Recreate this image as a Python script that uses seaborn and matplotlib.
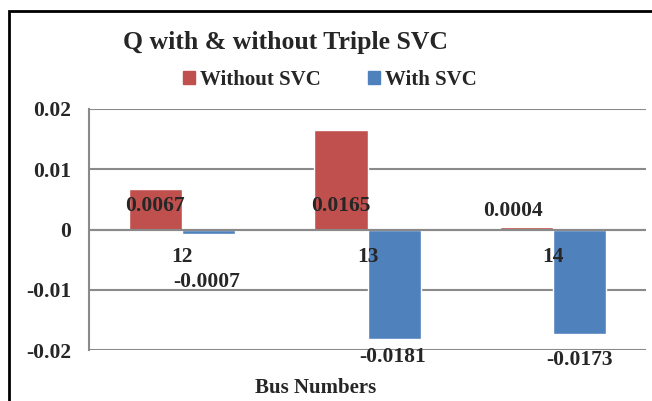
import matplotlib
matplotlib.use('Agg')
import matplotlib.pyplot as plt
import pandas as pd
import seaborn as sns
from matplotlib.patches import Rectangle

# chart data
buses = ['12', '13', '14']
without_svc = [0.0067, 0.0165, 0.0004]
with_svc = [-0.0007, -0.0181, -0.0173]
series_names = ['Without SVC', 'With SVC']
y_ticks = [0.02, 0.01, 0, -0.01, -0.02]
y_tick_labels = ['0.02', '0.01', '0', '-0.01', '-0.02']

df = pd.DataFrame({
    'bus': buses * 2,
    'value': without_svc + with_svc,
    'series': [series_names[0]] * 3 + [series_names[1]] * 3,
})

colors = {'Without SVC': '#C0504D', 'With SVC': '#4F81BD'}
grid_col = '#8a8a8a'

sns.set_style('white')
plt.rcParams['font.family'] = ['Liberation Serif', 'DejaVu Serif']
plt.rcParams['font.weight'] = 'bold'

W, H = 652, 401
fig = plt.figure(figsize=(W / 100, H / 100), dpi=100)
ax = fig.add_axes([89 / W, 1 - 350 / H, 557 / W, 241 / H])

sns.barplot(data=df, x='bus', y='value', hue='series', palette=colors,
            width=0.574, ax=ax, legend=False, saturation=1)

ax.set_ylim(-0.02, 0.02)
ax.set_xlim(-0.5, 2.5)
ax.set_yticks(y_ticks)
ax.set_yticklabels(y_tick_labels, fontsize=15.5, fontweight='bold')
ax.tick_params(axis='y', length=0, pad=13)
ax.set_xticks([])
ax.set_xlabel('')
ax.set_ylabel('')
ax.yaxis.grid(True, color=grid_col, linewidth=1.5)
ax.set_axisbelow(True)
for side in ['top', 'right', 'bottom']:
    ax.spines[side].set_visible(False)
ax.spines['left'].set_color(grid_col)
ax.spines['left'].set_linewidth(1.5)
ax.axhline(0, color=grid_col, linewidth=1.5, zorder=3)

# category labels next to the zero line
for i, b in enumerate(buses):
    ax.text(i, -0.0045, b, ha='center', va='center', fontsize=15.5, fontweight='bold')

# data labels
red_label_y = [0.00383, 0.00383, 0.003]
red_label_dx = [-0.146, -0.146, -0.216]
blue_label_y = [-0.0087, -0.0212, -0.0217]
blue_label_dx = [0.135, 0.135, 0.14]
for i in range(len(buses)):
    ax.text(i + red_label_dx[i], red_label_y[i], f'{without_svc[i]:.4f}',
            ha='center', va='center', fontsize=15.5, fontweight='bold', zorder=5)
    ax.text(i + blue_label_dx[i], blue_label_y[i], f'{with_svc[i]:.4f}',
            ha='center', va='center', fontsize=15.5, fontweight='bold', zorder=5,
            clip_on=False)

fig.text(285 / W, 1 - 42 / H, 'Q with & without Triple SVC',
         ha='center', va='center', fontsize=18.5, fontweight='bold')
fig.text(316 / W, 1 - 388 / H, 'Bus Numbers',
         ha='center', va='center', fontsize=15, fontweight='bold')

handles = [Rectangle((0, 0), 1, 1, color=colors[s]) for s in series_names]
fig.legend(handles, series_names, loc='center', bbox_to_anchor=(330 / W, 1 - 80 / H),
           ncol=2, frameon=False, handlelength=0.55, handleheight=0.55,
           handletextpad=0.25, columnspacing=2.3, prop={'weight': 'bold', 'size': 15})

# outer chart border
fig.patches.append(Rectangle((9 / W, -0.05), 1.1, 1 - 11 / H + 0.05,
                             transform=fig.transFigure, fill=False,
                             edgecolor='black', linewidth=2, clip_on=False))

fig.savefig('out.png', dpi=100)
